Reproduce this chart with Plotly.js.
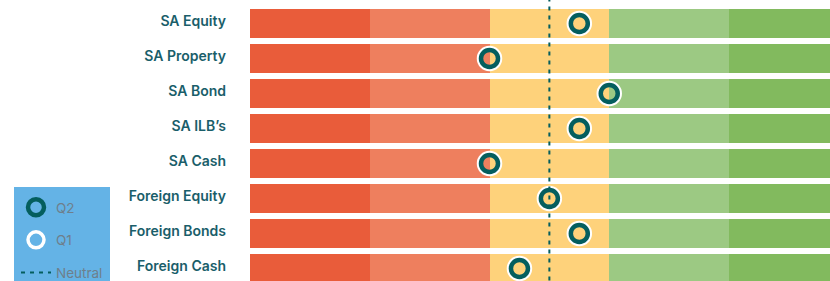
<!DOCTYPE html>
<html>
<head>
<meta charset="utf-8">
<script src="https://cdn.plot.ly/plotly-3.0.1.min.js"></script>
<style>html,body{margin:0;padding:0;background:#fff;}#chart{width:830px;height:281px;}</style>
</head>
<body>
<div id="chart"></div>
<script>
const categories = ["SA Equity", "SA Property", "SA Bond", "SA ILB\u2019s", "SA Cash", "Foreign Equity", "Foreign Bonds", "Foreign Cash"];
const bandWidths = [1, 1, 1, 1, 1];
const bandColors = ["#E95C3A", "#EE7F5E", "#FED27B", "#9CC983", "#82BA5E"];
const q2Values = [2.75, 2.0, 3.0, 2.75, 2.0, 2.5, 2.75, 2.25];
const q1Values = [2.75, 2.0, 3.0, 2.75, 2.0, 2.5, 2.75, 2.25];
const neutralValue = 2.5;

const teal = "#045E5E";
const traces = [];
bandWidths.forEach((w, i) => {
  traces.push({
    type: "bar", orientation: "h",
    y: categories, x: categories.map(() => w),
    marker: {color: bandColors[i], line: {width: 0}},
    showlegend: false, hoverinfo: "skip"
  });
});
traces.push({
  type: "scatter", mode: "lines", name: "Neutral",
  x: [neutralValue, neutralValue], y: [-1, categories.length],
  yaxis: "y2",
  line: {color: teal, width: 2, dash: "4px,5px"},
  legendgroup: "c", legendrank: 3
});
traces.push({
  type: "scatter", mode: "markers", name: "Q1",
  x: q1Values, y: categories,
  marker: {symbol: "circle-open", size: 22, color: "#FFFFFF", line: {width: 3.5, color: "#FFFFFF"}},
  legendgroup: "b", legendrank: 2
});
traces.push({
  type: "scatter", mode: "markers", name: "Q2",
  x: q2Values, y: categories,
  marker: {symbol: "circle-open", size: 17, color: teal, line: {width: 4.5, color: teal}},
  legendgroup: "a", legendrank: 1
});

const pitch = 35, firstCenter = 23.5, H = 281;
const yTop = -firstCenter / pitch;
const yBot = (H - firstCenter) / pitch;
const plotW = 580, segW = 119.75;

const layout = {
  width: 830, height: 281,
  margin: {l: 250, r: 0, t: 0, b: 0, pad: 0, autoexpand: false},
  paper_bgcolor: "#FFFFFF", plot_bgcolor: "#FFFFFF",
  barmode: "stack", bargap: 6 / 35,
  showlegend: true,
  font: {family: "Inter, 'DejaVu Sans', sans-serif"},
  xaxis: {range: [0, plotW / segW], showgrid: false, zeroline: false, showticklabels: false, ticks: "", fixedrange: true},
  yaxis: {
    type: "category", range: [yBot, yTop], showgrid: false, zeroline: false, ticks: "",
    ticklabelstandoff: 23, ticklabelshift: 2,
    tickfont: {family: "Inter, sans-serif", size: 14, color: "#1A5E6A", weight: 600}
  },
  yaxis2: {overlaying: "y", range: [yBot, yTop], visible: false, showgrid: false, zeroline: false},
  shapes: [{
    type: "rect", xref: "paper", yref: "paper",
    x0: (14 - 250) / plotW, x1: (110 - 250) / plotW,
    y0: -0.1, y1: 1 - 187 / H,
    fillcolor: "#64B3E6", line: {width: 0}, layer: "below"
  }],
  legend: {
    x: (16 - 250) / plotW, xanchor: "left", y: 1 - 192 / H, yanchor: "top",
    bgcolor: "rgba(0,0,0,0)", borderwidth: 0,
    traceorder: "grouped", tracegroupgap: 12,
    font: {family: "Inter, sans-serif", size: 13.5, color: "#6E7F8C"},
    itemwidth: 30
  }
};

Plotly.newPlot("chart", traces, layout, {displayModeBar: false, staticPlot: true});
</script>
</body>
</html>
